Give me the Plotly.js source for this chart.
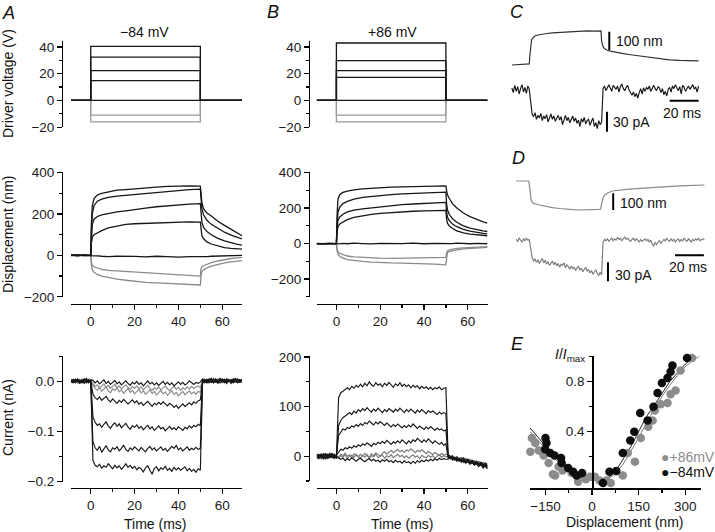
<!DOCTYPE html>
<html><head><meta charset="utf-8">
<script src="https://cdn.plot.ly/plotly-3.0.1.min.js"></script>
<style>html,body{margin:0;padding:0;background:#fff}#chart{width:715px;height:532px}</style>
</head><body><div id="chart"></div>
<script>
// ---------------- DATA ----------------
// Driver voltage steps (V), time in ms
const tDrv = [-9, 0, 0, 50, 50, 69];
const tLine = [-9, 69];
const zeroLine = [0, 0];
const drvA_black = [[0,0,40.5,40.5,0,0],[0,0,32.5,32.5,0,0],[0,0,22.3,22.3,0,0],[0,0,14.8,14.8,0,0]];
const drvA_gray = [[0,0,-11,-11,0,0],[0,0,-16,-16,0,0]];
const drvB_black = [[0,0,43,43,0,0],[0,0,29.8,29.8,0,0],[0,0,22.3,22.3,0,0],[0,0,17.3,17.3,0,0]];
const drvB_gray = [[0,0,-11,-11,0,0],[0,0,-16,-16,0,0]];

// Displacement (nm)
const tDisp = [-9,-6,-3,0,0.3,0.7,1.5,3,5,8,12,16,20,25,30,35,40,45,50,50.3,50.7,51.5,53,55,58,61,64,67,69];
const dispA1 = [2,-2,1,0,150,240,275,292,300,308,315,318,322,325,330,333,336,336,335,300,255,225,205,190,165,145,125,105,95];
const dispA2 = [0,2,-1,0,120,200,240,262,272,280,286,290,295,300,305,310,314,318,320,280,225,195,170,150,130,112,98,86,80];
const dispA3 = [-1,1,0,0,90,150,175,188,196,203,210,215,222,228,235,240,246,248,250,200,160,135,115,100,82,70,60,53,50];
const dispA4 = [1,-1,2,0,60,88,100,110,120,133,143,150,153,155,158,160,161,162,161,120,95,80,65,55,45,38,34,31,30];
const dispA5 = [0,2,-1,0,0,-2,-3,-2,-4,-6,-4,-3,-5,-7,-4,-6,-8,-6,-8,-8,-6,-5,-6,-4,-3,-4,-2,-1,0];
const dispA6 = [0,1,-1,0,-30,-48,-55,-62,-68,-72,-75,-76,-78,-82,-88,-92,-96,-98,-100,-65,-55,-50,-42,-35,-27,-20,-15,-12,-10];
const dispA7 = [0,-1,1,0,-45,-70,-82,-92,-100,-108,-115,-120,-126,-130,-133,-135,-137,-140,-143,-100,-78,-70,-60,-52,-43,-36,-31,-27,-25];
const dispB1 = [1,-1,2,0,160,250,275,288,296,303,308,312,316,318,320,322,324,325,325,300,275,255,225,200,172,152,135,122,115];
const dispB2 = [0,1,-1,0,110,175,205,225,238,250,260,266,272,276,280,283,286,288,290,230,190,165,140,120,100,87,78,72,68];
const dispB3 = [-1,0,1,0,90,130,150,165,178,188,196,202,208,214,219,223,227,230,232,180,150,130,110,95,80,70,62,57,55];
const dispB4 = [0,-1,0,0,60,95,110,122,135,148,158,165,170,175,179,182,184,186,187,140,115,100,85,72,60,53,48,45,44];
const dispB5 = [0,1,0,0,2,0,-2,1,-1,2,0,-2,1,-1,0,2,-1,1,-2,0,1,-1,0,2,0,-1,1,0,-1];
const dispB6 = [0,0,1,0,-30,-45,-55,-62,-70,-75,-78,-80,-82,-83,-82,-80,-79,-78,-78,-55,-40,-35,-30,-27,-24,-21,-19,-18,-17];
const dispB7 = [0,-1,0,0,-40,-60,-72,-82,-90,-96,-100,-104,-107,-109,-110,-111,-113,-116,-120,-70,-50,-45,-40,-35,-30,-27,-24,-22,-21];

// Current, panel A (nA), sampled every 1 ms from -9 to 69 ms
const curA1 = [0.003,-0.002,0.004,-0.001,-0.004,0.002,0.005,-0.003,0.001,0.002,
 -0.158,-0.168,-0.171,-0.166,-0.174,-0.169,-0.172,-0.165,-0.170,-0.175,
 -0.168,-0.173,-0.169,-0.176,-0.171,-0.165,-0.172,-0.168,-0.174,-0.170,
 -0.177,-0.172,-0.175,-0.181,-0.173,-0.169,-0.178,-0.186,-0.174,-0.171,
 -0.179,-0.173,-0.176,-0.170,-0.178,-0.174,-0.180,-0.172,-0.177,-0.173,
 -0.178,-0.175,-0.171,-0.179,-0.174,-0.180,-0.176,-0.182,-0.175,-0.178,
 -0.004,0.003,-0.002,0.005,0.001,-0.003,0.004,-0.001,0.002,0.005,
 -0.002,0.003,0.000,0.004,-0.003,0.002,0.005,-0.001,0.003];
const curA2 = [-0.002,0.003,0.000,0.004,-0.003,0.001,0.003,-0.002,0.004,0.000,
 -0.120,-0.133,-0.138,-0.130,-0.142,-0.135,-0.129,-0.137,-0.141,-0.133,
 -0.136,-0.131,-0.139,-0.134,-0.128,-0.136,-0.140,-0.133,-0.137,-0.131,
 -0.135,-0.139,-0.132,-0.136,-0.141,-0.134,-0.130,-0.137,-0.133,-0.139,
 -0.135,-0.131,-0.138,-0.134,-0.140,-0.136,-0.130,-0.134,-0.128,-0.137,
 -0.133,-0.139,-0.135,-0.131,-0.138,-0.134,-0.137,-0.132,-0.136,-0.134,
 0.002,-0.003,0.004,0.000,-0.002,0.005,0.001,-0.004,0.003,0.000,
 0.004,-0.002,0.002,-0.001,0.005,0.001,-0.003,0.003,0.000];
const curA3 = [0.001,-0.003,0.004,0.002,-0.001,0.003,-0.004,0.002,0.000,0.003,
 -0.070,-0.082,-0.088,-0.085,-0.092,-0.086,-0.081,-0.089,-0.094,-0.087,
 -0.083,-0.090,-0.085,-0.093,-0.088,-0.084,-0.091,-0.096,-0.089,-0.092,
 -0.087,-0.094,-0.090,-0.097,-0.092,-0.088,-0.095,-0.091,-0.098,-0.093,
 -0.089,-0.095,-0.092,-0.099,-0.094,-0.090,-0.096,-0.093,-0.097,-0.091,
 -0.094,-0.098,-0.092,-0.095,-0.089,-0.093,-0.088,-0.091,-0.086,-0.089,
 0.003,0.000,-0.003,0.004,0.001,-0.002,0.005,0.000,-0.003,0.002,
 0.004,-0.001,0.003,-0.004,0.002,0.000,0.004,-0.002,0.001];
const curA4 = [-0.001,0.004,-0.003,0.002,0.003,-0.002,0.001,0.004,-0.003,0.001,
 -0.025,-0.033,-0.036,-0.031,-0.038,-0.034,-0.030,-0.037,-0.041,-0.035,
 -0.039,-0.044,-0.038,-0.042,-0.036,-0.040,-0.045,-0.041,-0.037,-0.043,
 -0.039,-0.046,-0.042,-0.048,-0.043,-0.040,-0.045,-0.050,-0.044,-0.047,
 -0.042,-0.046,-0.041,-0.045,-0.049,-0.044,-0.047,-0.052,-0.048,-0.054,
 -0.049,-0.045,-0.050,-0.046,-0.043,-0.047,-0.041,-0.044,-0.039,-0.037,
 -0.002,0.004,0.001,-0.003,0.005,0.000,-0.002,0.003,0.006,-0.001,
 0.002,-0.004,0.003,0.001,-0.002,0.004,0.000,0.003,-0.002];
const curA5 = [0.002,-0.001,0.003,-0.004,0.001,0.004,-0.002,0.000,0.003,-0.001,
 -0.008,-0.014,-0.018,-0.012,-0.020,-0.016,-0.011,-0.019,-0.023,-0.015,
 -0.018,-0.013,-0.021,-0.017,-0.024,-0.019,-0.014,-0.022,-0.018,-0.025,
 -0.020,-0.016,-0.023,-0.019,-0.026,-0.021,-0.017,-0.024,-0.020,-0.027,
 -0.022,-0.018,-0.025,-0.021,-0.028,-0.023,-0.019,-0.026,-0.022,-0.029,
 -0.024,-0.020,-0.027,-0.023,-0.019,-0.025,-0.021,-0.026,-0.020,-0.022,
 0.001,-0.002,0.004,0.000,0.003,-0.003,0.002,0.005,-0.001,0.002,
 -0.003,0.001,0.004,-0.002,0.003,0.000,-0.002,0.004,0.001];
const curA6 = [-0.003,0.002,0.000,0.003,-0.002,0.004,0.001,-0.003,0.002,0.001,
 -0.004,-0.010,-0.007,-0.013,-0.009,-0.005,-0.012,-0.008,-0.014,-0.010,
 -0.006,-0.013,-0.009,-0.015,-0.011,-0.007,-0.012,-0.016,-0.010,-0.014,
 -0.009,-0.015,-0.011,-0.017,-0.012,-0.008,-0.014,-0.018,-0.013,-0.016,
 -0.011,-0.017,-0.013,-0.009,-0.015,-0.019,-0.014,-0.010,-0.016,-0.012,
 -0.018,-0.013,-0.016,-0.011,-0.015,-0.010,-0.014,-0.012,-0.009,-0.013,
 0.003,0.000,0.004,-0.002,0.001,0.005,-0.001,0.003,0.000,-0.003,
 0.002,0.005,-0.001,0.002,0.004,-0.002,0.001,0.003,-0.001];
const curA7 = [0.004,0.000,-0.002,0.005,0.001,-0.003,0.002,0.006,-0.001,0.003,
 0.002,-0.003,0.001,-0.005,-0.001,0.003,-0.004,0.000,-0.006,-0.002,
 0.002,-0.005,-0.001,-0.007,-0.003,0.001,-0.004,-0.008,-0.002,-0.005,
 0.000,-0.006,-0.003,-0.009,-0.004,0.001,-0.005,-0.002,-0.007,-0.003,
 -0.008,-0.004,0.000,-0.006,-0.002,-0.007,-0.003,-0.009,-0.005,-0.001,
 -0.006,-0.002,-0.007,-0.004,0.001,-0.003,-0.006,-0.002,-0.004,-0.001,
 0.005,0.001,-0.002,0.003,0.006,-0.001,0.002,-0.003,0.004,0.001,
 -0.002,0.005,0.002,-0.001,0.003,0.006,-0.002,0.001,0.004];

// Current, panel B (pA), sampled every 1 ms from -9 to 69 ms
const curB1 = [3,-4,5,-2,6,-5,2,-3,4,0,
 118,128,131,135,138,134,141,137,143,139,
 145,140,147,142,150,144,141,148,143,146,
 140,147,143,149,144,139,146,142,148,141,
 145,140,144,138,143,139,142,136,141,137,
 140,135,139,134,138,136,140,134,137,138,
 4,-2,-6,-3,-9,-5,-11,-8,-13,-9,
 -15,-11,-17,-13,-19,-15,-21,-17,-22];
const curB2 = [-3,4,-1,5,-4,2,6,-2,3,-5,
 62,72,78,81,85,88,84,91,87,94,
 90,96,92,98,93,89,95,91,97,93,
 88,94,90,96,92,89,95,91,97,92,
 88,94,90,95,91,87,93,89,94,90,
 86,92,88,91,87,84,89,85,88,86,
 -1,-5,-2,-8,-4,-10,-7,-12,-9,-6,
 -12,-9,-14,-11,-16,-13,-18,-14,-20];
const curB3 = [5,-2,3,-6,1,4,-3,6,-1,2,
 42,50,55,53,58,56,61,59,64,60,
 66,62,68,65,71,67,63,69,65,70,
 66,62,67,63,59,64,60,65,61,57,
 62,58,63,59,65,60,56,61,57,54,
 59,55,60,56,52,57,53,55,51,53,
 2,-3,0,-6,-2,-8,-5,-3,-9,-6,
 -11,-8,-13,-10,-15,-12,-17,-14,-19];
const curB4 = [-5,1,-3,4,-6,2,-1,5,-4,1,
 8,14,12,17,15,19,16,21,18,23,
 20,25,22,27,24,20,26,23,28,25,
 30,26,32,28,24,29,26,31,27,33,
 29,25,31,27,33,30,36,31,28,33,
 29,35,30,26,31,27,24,28,22,25,
 -3,0,-5,-2,-7,-4,-9,-6,-11,-8,
 -13,-10,-15,-12,-17,-14,-19,-16,-24];
const curB5 = [2,-3,4,0,-2,5,-4,3,1,-2,
 -2,4,1,6,0,3,-3,5,2,-1,
 4,0,6,2,-2,5,1,7,3,0,
 6,9,4,8,12,7,10,14,9,12,
 8,13,10,15,11,7,12,9,13,8,
 5,10,6,3,8,4,1,6,2,4,
 3,-1,2,-4,0,-5,-2,-7,-4,-9,
 -6,-11,-8,-13,-10,-14,-12,-16,-14];
const curB6 = [-4,2,-6,3,0,-3,5,-1,-5,2,
 -4,1,-2,3,-5,0,2,-3,4,-1,
 -4,2,-2,3,-5,1,-1,4,-3,0,
 2,-4,1,-2,3,-3,0,4,-1,2,
 -3,1,-4,0,3,-2,1,-5,2,-1,
 -3,2,-2,1,-4,0,3,-2,1,-1,
 0,-4,-1,-6,-3,-8,-5,-10,-7,-12,
 -9,-14,-11,-16,-13,-18,-15,-21,-18];
const curB7 = [1,-5,3,-2,6,-4,0,4,-3,-1,
 -3,-6,-4,-9,-5,-8,-3,-7,-10,-6,
 -4,-8,-11,-7,-5,-9,-6,-10,-8,-12,
 -7,-10,-6,-11,-9,-13,-8,-12,-10,-14,
 -9,-13,-11,-15,-10,-14,-9,-12,-8,-11,
 -7,-10,-6,-9,-5,-8,-4,-7,-5,-6,
 -6,-2,-8,-4,-10,-6,-12,-8,-14,-11,
 -16,-13,-18,-15,-21,-17,-24,-20,-26];

// Panel C: displacement (nm) and current (pA, every 1 ms from -12 ms)
const tDispC = [-12,-8,-4,-1,0,0.5,1,1.6,2.5,4,6,8,12,16,21,26,30,35,40,45,49,49.6,50,51,52,53.5,56,60,65,70,76,82,90,97,104,110,117];
const dispC = [0,2,3,5,6,60,110,135,148,158,164,168,172,175,178,181,180,183,186,185,187,186,130,100,90,82,76,68,62,56,49,42,33,28,25,23,22];
const curC = [3,-4,7,-2,5,-6,2,8,-3,4,-5,6,1,
 -22,-36,-40,-34,-44,-38,-42,-35,-46,-39,
 -43,-37,-48,-41,-36,-44,-39,-47,-42,-38,
 -45,-40,-52,-43,-38,-46,-41,-49,-44,-39,
 -47,-42,-50,-45,-55,-43,-48,-41,-51,-46,
 -44,-53,-47,-42,-55,-49,-58,-46,-52,-48,
 2,6,-1,5,8,3,-2,7,4,1,
 6,-3,5,9,2,-1,4,7,0,-4,
 -8,-3,-10,-5,-12,-4,2,-6,3,-2,
 4,1,6,-2,4,7,2,-1,5,3,
 -4,2,-7,-2,-9,1,4,-3,6,2,
 8,3,-1,5,-6,7,4,-2,3,6,
 1,5,8,2,4,-3,6];

// Panel D: displacement (nm) and current (pA, every 1 ms from -9 ms)
const tDispD = [-9,-4,-1,-0.3,0.3,0.8,1.3,2.3,4,7,11,16,21,25,30,35,40,44,48,49.3,49.8,50.5,51,52,54,57.5,62,67,74,80,87,94,101,108,115,121];
const dispD = [0,0,0,0,-40,-90,-115,-130,-137,-144,-152,-160,-165,-170,-172,-174,-174,-173,-170,-168,-150,-120,-100,-85,-72,-60,-54,-50,-46,-42,-38,-34,-31,-28,-26,-24];
const curD = [1,-2,3,0,-3,2,-1,3,0,1,
 -18,-28,-33,-30,-35,-31,-37,-33,-29,-36,
 -32,-38,-34,-40,-36,-33,-39,-35,-41,-37,
 -43,-38,-40,-36,-44,-39,-42,-46,-41,-45,
 -43,-48,-44,-41,-47,-45,-50,-46,-43,-49,
 -47,-52,-48,-54,-50,-47,-53,-56,-51,-55,
 -4,1,-1,2,-2,1,3,-1,2,0,
 4,1,3,-1,2,5,1,3,0,-2,
 1,3,-1,2,0,-3,1,-2,0,2,
 -1,1,-3,0,-6,-9,-4,-7,-3,-1,
 -5,-2,1,-1,3,0,-2,2,-1,1,
 -3,0,2,-2,1,-1,3,0,-2,2,
 0,-3,1,-1,2,0,3,-1,1,2,
 0];

// Scale bars (data units)
const barC_nmX = [55.3, 55.3], barC_nmY = [82, 182];
const barC_pAX = [53.7, 53.7], barC_pAY = [-32.5, -62.5];
const barC_msX = [97, 117],    barC_msY = [-16, -16];
const barD_nmX = [58, 58],     barD_nmY = [-74, -174];
const barD_pAX = [54.4, 54.4], barD_pAY = [-35, -65];
const barD_msX = [100.7, 120.7], barD_msY = [-24, -24];

// Panel E: normalised current vs displacement
const eGrayX = [-194,-183,-199,-172,-156,-140,-126,-119,-108,-95,-82,-66,-45,-20,-7,9,24,46,60,99,115,138,157,181,195,202,221,243,253,269,285,301,322];
const eGrayY = [0.35,0.31,0.24,0.25,0.21,0.15,0.06,0.05,0.12,0.09,0.11,0.07,0.00,0.02,0.04,0.04,0.01,0.01,-0.01,0.05,0.23,0.16,0.35,0.44,0.49,0.57,0.62,0.63,0.70,0.73,0.89,1.01,0.99];
const eBlackX = [-150,-147,-151,-135,-121,-100,-98,-77,-61,-50,-32,35,56,78,99,123,136,155,179,198,211,225,243,253,259,277,306,312];
const eBlackY = [0.35,0.31,0.26,0.23,0.21,0.19,0.15,0.11,0.08,0.05,0.07,-0.01,0.08,0.085,0.23,0.33,0.40,0.55,0.49,0.60,0.71,0.79,0.83,0.88,0.93,1.01,0.99,1.01];
const fitX = [-200,-175,-150,-125,-100,-75,-50,-25,0,25,50,75,100,125,150,175,200,225,250,275,300,325,350];
const fitBlack = [0.43,0.355,0.285,0.215,0.15,0.095,0.05,0.022,0.012,0.012,0.03,0.08,0.18,0.28,0.40,0.52,0.61,0.70,0.80,0.87,0.94,0.99,1.03];
const fitGray = [0.40,0.33,0.26,0.195,0.135,0.085,0.045,0.02,0.012,0.012,0.022,0.06,0.14,0.24,0.35,0.47,0.58,0.68,0.77,0.85,0.92,0.97,1.01];

// ---------------- LAYOUT HELPERS ----------------
const W = 715, H = 532;
const fx = p => p / W, fy = p => 1 - p / H;
const FONT = 'Liberation Sans, Arial, Helvetica, sans-serif';
const BLACK = '#161616', GRAY = '#8a8a8a';
const TXT = 14;

function axBase() {
  return {showline:true, linecolor:'#000', linewidth:1.3, ticks:'outside', ticklen:5, tickwidth:1.3,
    tickcolor:'#000', showgrid:false, zeroline:false, fixedrange:true,
    tickfont:{family:FONT, size:13.5, color:'#1a1a1a'}};
}
function yAx(top, bot, range, px, dtick, mdtick, extra) {
  return Object.assign(axBase(), {domain:[fy(bot), fy(top)], range:range, anchor:'free', position:fx(px),
    tick0:0, dtick:dtick, minor:{ticks:'outside', ticklen:3, tickwidth:1.3, tickcolor:'#000', tick0:0, dtick:mdtick, showgrid:false}}, extra || {});
}
function xAx(left, right, range, py, dtick, mdtick) {
  return Object.assign(axBase(), {domain:[fx(left), fx(right)], range:range, anchor:'free', position:fy(py),
    tick0:0, dtick:dtick, minor:{ticks:'outside', ticklen:3, tickwidth:1.3, tickcolor:'#000', tick0:0, dtick:mdtick, showgrid:false}});
}
function hidX(left, right, range) { return {domain:[fx(left), fx(right)], range:range, visible:false, anchor:'free', fixedrange:true}; }
function hidY(top, bot, range) { return {domain:[fy(bot), fy(top)], range:range, visible:false, anchor:'free', fixedrange:true}; }

const traces = [];
function ln(x, y, xa, ya, color, w) {
  traces.push({x:x, y:y, xaxis:xa, yaxis:ya, type:'scatter', mode:'lines', line:{color:color, width:w || 1.3}, hoverinfo:'skip', showlegend:false});
}
function noisy(y, x0, xa, ya, color, w) {
  traces.push({x0:x0, dx:1, y:y, xaxis:xa, yaxis:ya, type:'scatter', mode:'lines', line:{color:color, width:w || 1.15}, hoverinfo:'skip', showlegend:false});
}

// Panel A top / B top : driver voltage
drvA_gray.forEach(v => ln(tDrv, v, 'x', 'y', '#9a9a9a'));
drvA_black.forEach(v => ln(tDrv, v, 'x', 'y', BLACK));
ln(tLine, zeroLine, 'x', 'y', BLACK);
drvB_gray.forEach(v => ln(tDrv, v, 'x4', 'y4', '#9a9a9a'));
drvB_black.forEach(v => ln(tDrv, v, 'x4', 'y4', BLACK));
ln(tLine, zeroLine, 'x4', 'y4', BLACK);

// Displacement
[dispA6, dispA7].forEach(v => ln(tDisp, v, 'x2', 'y2', GRAY));
[dispA1, dispA2, dispA3, dispA4, dispA5].forEach(v => ln(tDisp, v, 'x2', 'y2', BLACK));
[dispB6, dispB7].forEach(v => ln(tDisp, v, 'x5', 'y5', GRAY));
[dispB1, dispB2, dispB3, dispB4, dispB5].forEach(v => ln(tDisp, v, 'x5', 'y5', BLACK));

// Currents
[curA5, curA6].forEach(v => noisy(v, -9, 'x3', 'y3', GRAY));
[curA1, curA2, curA3, curA4, curA7].forEach(v => noisy(v, -9, 'x3', 'y3', BLACK));
[curB5, curB6].forEach(v => noisy(v, -9, 'x6', 'y6', '#7a7a7a'));
[curB1, curB2, curB3, curB4, curB7].forEach(v => noisy(v, -9, 'x6', 'y6', BLACK));

// Panel C
ln(tDispC, dispC, 'x7', 'y7', '#333', 1.2);
noisy(curC, -12, 'x7', 'y8', BLACK, 1.15);
ln(barC_nmX, barC_nmY, 'x7', 'y7', '#000', 2);
ln(barC_pAX, barC_pAY, 'x7', 'y8', '#000', 2);
ln(barC_msX, barC_msY, 'x7', 'y8', '#000', 2);
// Panel D
ln(tDispD, dispD, 'x7', 'y9', '#8a8a8a', 1.2);
noisy(curD, -9, 'x7', 'y10', '#7a7a7a', 1.15);
ln(barD_nmX, barD_nmY, 'x7', 'y9', '#000', 2);
ln(barD_pAX, barD_pAY, 'x7', 'y10', '#000', 2);
ln(barD_msX, barD_msY, 'x7', 'y10', '#000', 2);

// Panel E
ln(fitX, fitGray, 'x8', 'y11', '#777', 1);
ln(fitX, fitBlack, 'x8', 'y11', '#222', 1);
traces.push({x:eGrayX, y:eGrayY, xaxis:'x8', yaxis:'y11', type:'scatter', mode:'markers', cliponaxis:false,
  marker:{color:'#8c8c8c', size:8.5}, hoverinfo:'skip', showlegend:false});
traces.push({x:eBlackX, y:eBlackY, xaxis:'x8', yaxis:'y11', type:'scatter', mode:'markers', cliponaxis:false,
  marker:{color:'#0d0d0d', size:8.5}, hoverinfo:'skip', showlegend:false});

// Annotations
function ann(text, px, py, o) {
  return Object.assign({text:text, x:fx(px), y:fy(py), xref:'paper', yref:'paper', showarrow:false,
    xanchor:'center', yanchor:'middle', font:{family:FONT, size:TXT, color:'#111'}}, o || {});
}
const LET = {family:FONT, size:18, color:'#111'};
const annotations = [
  ann('<i>A</i>', 8, 13, {font:LET}),
  ann('<i>B</i>', 273, 12, {font:LET}),
  ann('<i>C</i>', 517, 12, {font:LET}),
  ann('<i>D</i>', 518, 158, {font:LET}),
  ann('<i>E</i>', 517, 344, {font:LET}),
  ann('\u221284 mV', 144, 32),
  ann('+86 mV', 392, 32),
  ann('Driver voltage (V)', 8, 84, {textangle:-90}),
  ann('Displacement (nm)', 8, 235, {textangle:-90}),
  ann('Current (nA)', 8, 418, {textangle:-90}),
  ann('Time (ms)', 155, 524),
  ann('Time (ms)', 402, 524),
  ann('Displacement (nm)', 624, 522),
  ann('<i>I</i>/<i>I</i><sub>max</sub>', 587, 355, {xanchor:'right'}),
  ann('100 nm', 614, 41, {xanchor:'left'}),
  ann('30 pA', 611, 122, {xanchor:'left'}),
  ann('20 ms', 682, 113),
  ann('100 nm', 618, 203, {xanchor:'left'}),
  ann('30 pA', 613, 275, {xanchor:'left'}),
  ann('20 ms', 688, 267),
  ann('\u25CF+86mV', 659, 457, {xanchor:'left', font:{family:FONT, size:14, color:'#8c8c8c'}}),
  ann('\u25CF\u221284mV', 659, 472, {xanchor:'left', font:{family:FONT, size:14, color:'#111'}})
];

const layout = {
  width:W, height:H, margin:{l:0, r:0, t:0, b:0}, paper_bgcolor:'#fff', plot_bgcolor:'rgba(0,0,0,0)',
  showlegend:false, font:{family:FONT, color:'#111'}, hovermode:false,
  xaxis: hidX(71, 242, [-9, 69]),
  yaxis: yAx(41, 127.3, [-20.1, 44.5], 62, 20, 10),
  xaxis2: xAx(71, 242, [-9, 69], 303.7, 20, 10),
  yaxis2: yAx(172.4, 297, [-201, 401], 62, 200, 100),
  xaxis3: xAx(71, 242, [-9, 69], 487.7, 20, 10),
  yaxis3: yAx(355.8, 481.6, [-0.2006, 0.0512], 62, 0.1, 0.05, {tickformat:'.1f'}),
  xaxis4: hidX(316.7, 487.5, [-9, 69]),
  yaxis4: yAx(41, 127.3, [-20.1, 44.5], 309, 20, 10),
  xaxis5: xAx(316.7, 487.5, [-9, 69], 303.7, 20, 10),
  yaxis5: yAx(172.4, 297, [-301, 401], 309, 200, 100),
  xaxis6: xAx(316.7, 487.5, [-9, 69], 487.7, 20, 10),
  yaxis6: yAx(355.5, 481.3, [-50.5, 203], 309, 100, 50),
  xaxis7: hidX(506.1, 705.8, [-16, 122]),
  yaxis7: hidY(20, 75, [-54.6, 245.7]),
  yaxis8: hidY(78, 140, [-75, 18]),
  yaxis9: hidY(170, 215, [-204, 66]),
  yaxis10: hidY(230, 290, [-79, 16]),
  xaxis8: xAx(530, 700.7, [-200, 350], 488.3, 150, 75),
  yaxis11: Object.assign(axBase(), {domain:[fy(488.3), fy(356.4)], range:[-0.053, 1.002], anchor:'free', position:fx(592.3),
    tickmode:'array', tickvals:[0.4, 0.8], tickformat:'.1f',
    minor:{ticks:'outside', ticklen:3, tickwidth:1.3, tickcolor:'#000', tickmode:'array', tickvals:[0.2, 0.6, 1.0], showgrid:false}}),
  annotations: annotations
};

Plotly.newPlot('chart', traces, layout, {staticPlot:true, displayModeBar:false});
</script></body></html>
